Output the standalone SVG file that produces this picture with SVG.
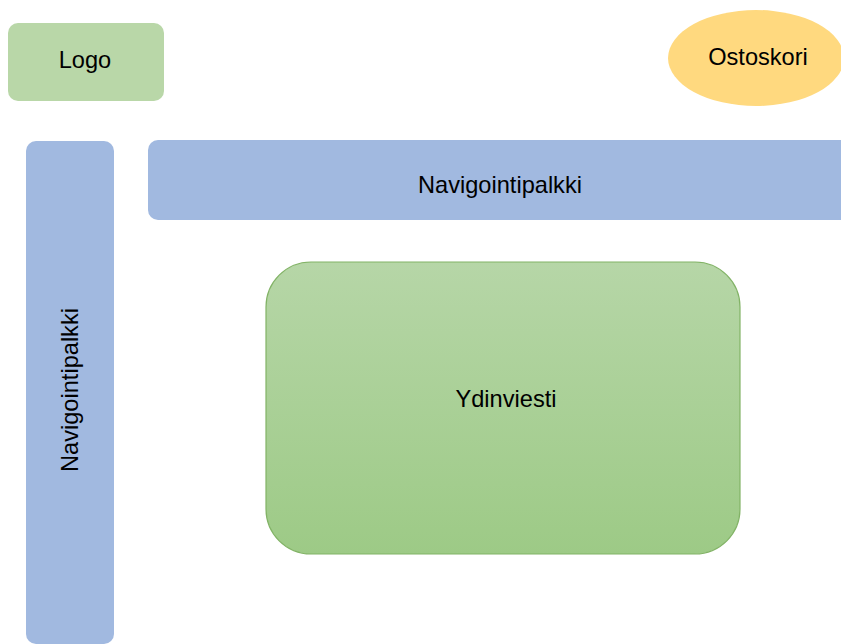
<svg xmlns="http://www.w3.org/2000/svg" width="841" height="644" viewBox="0 0 841 644">
<defs>
<linearGradient id="g" x1="0" y1="0" x2="0" y2="1">
<stop offset="0" stop-color="#b6d6a7"/>
<stop offset="1" stop-color="#9dca86"/>
</linearGradient>
</defs>
<style>
text{font-family:"Liberation Sans",Arial,sans-serif;font-size:23.6px;fill:#000;text-anchor:middle;dominant-baseline:central}
.blue{fill:#a1b9e0}
</style>
<rect width="841" height="644" fill="#fff"/>
<g id="logo"><rect x="8" y="23" width="156" height="78" rx="10" fill="#b9d7a8"/><text x="85" y="60">Logo</text></g>
<g id="ostoskori"><ellipse cx="756" cy="58" rx="88" ry="48" fill="#ffd97f"/><text x="758" y="57">Ostoskori</text></g>
<g id="nav-h"><rect class="blue" x="148" y="140" width="710" height="80" rx="10"/><text x="500" y="185">Navigointipalkki</text></g>
<g id="nav-v"><rect class="blue" x="26" y="141" width="88" height="503" rx="10"/><text transform="translate(70 390) rotate(-90)">Navigointipalkki</text></g>
<g id="ydinviesti"><rect x="266" y="262" width="474" height="292" rx="45" fill="url(#g)" stroke="#82b366" stroke-width="1.2"/><text x="506" y="399">Ydinviesti</text></g>
<g id="connectors"/>
</svg>
